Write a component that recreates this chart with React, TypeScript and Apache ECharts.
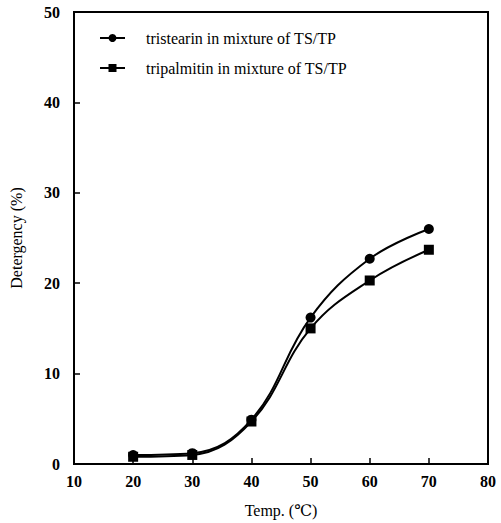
import React, { useEffect, useRef } from "react";
import * as echarts from "echarts";

const temps = [20, 30, 40, 50, 60, 70];
const tristearin = [1.0, 1.2, 4.9, 16.2, 22.7, 26.0];
const tripalmitin = [0.8, 1.0, 4.7, 15.0, 20.3, 23.7];
const seriesNames = ["tristearin in mixture of TS/TP", "tripalmitin in mixture of TS/TP"];

const FONT = "Liberation Serif, DejaVu Serif, serif";

export default function App() {
  const ref = useRef<HTMLDivElement>(null);
  useEffect(() => {
    const chart = echarts.init(ref.current!, undefined, { renderer: "svg" });
    chart.setOption({
      animation: false,
      backgroundColor: "#fff",
      grid: {
        left: 73,
        right: 13,
        top: 12,
        bottom: 56,
        show: true,
        borderColor: "#000",
        borderWidth: 2,
      },
      legend: {
        orient: "vertical",
        left: 94,
        top: 25,
        itemGap: 14,
        itemWidth: 25,
        itemHeight: 10,
        data: seriesNames,
        textStyle: { fontFamily: FONT, fontSize: 16, color: "#000", padding: [0, 0, 0, 16] },
      },
      xAxis: {
        type: "value",
        min: 10,
        max: 80,
        interval: 10,
        name: "Temp. (\u2103)",
        nameLocation: "middle",
        nameGap: 38,
        nameTextStyle: { fontFamily: FONT, fontSize: 16, color: "#000" },
        axisLine: { lineStyle: { color: "#000", width: 2 } },
        axisTick: { inside: true, length: 6, lineStyle: { color: "#000", width: 1.5 } },
        axisLabel: { fontFamily: FONT, fontSize: 16, fontWeight: "bold", color: "#000", margin: 9 },
        splitLine: { show: false },
      },
      yAxis: {
        type: "value",
        min: 0,
        max: 50,
        interval: 10,
        name: "Detergency (%)",
        nameLocation: "middle",
        nameGap: 50,
        nameTextStyle: { fontFamily: FONT, fontSize: 16, color: "#000" },
        axisLine: { lineStyle: { color: "#000", width: 2 } },
        axisTick: { inside: true, length: 6, lineStyle: { color: "#000", width: 1.5 } },
        axisLabel: { fontFamily: FONT, fontSize: 16, fontWeight: "bold", color: "#000", margin: 14 },
        splitLine: { show: false },
      },
      series: [
        {
          name: seriesNames[0],
          type: "line",
          smooth: 0.4,
          data: temps.map((t, i) => [t, tristearin[i]]),
          symbol: "circle",
          symbolSize: 10,
          lineStyle: { color: "#000", width: 2 },
          itemStyle: { color: "#000" },
        },
        {
          name: seriesNames[1],
          type: "line",
          smooth: 0.4,
          data: temps.map((t, i) => [t, tripalmitin[i]]),
          symbol: "rect",
          symbolSize: 10,
          lineStyle: { color: "#000", width: 2 },
          itemStyle: { color: "#000" },
        },
      ],
    });
    return () => chart.dispose();
  }, []);
  return <div ref={ref} style={{ width: 501, height: 523, position: "absolute", left: 0, top: 0 }} />;
}
